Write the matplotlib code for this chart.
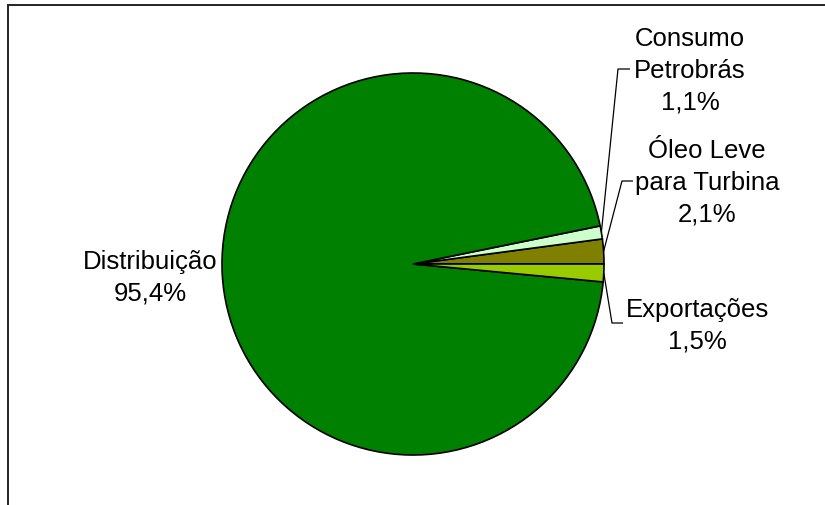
import numpy as np
import matplotlib
matplotlib.use('Agg')
from matplotlib import pyplot as plt
from matplotlib.patches import Rectangle

labels = ['Óleo Leve\npara Turbina', 'Consumo\nPetrobrás', 'Distribuição', 'Exportações']
values = [2.1, 1.1, 95.4, 1.5]
pct_text = ['2,1%', '1,1%', '95,4%', '1,5%']
colors = ['#808000', '#CCFFCC', '#008000', '#99CC00']

W, H = 825, 506
fig = plt.figure(figsize=(W / 100, H / 100), dpi=100)
ax = fig.add_axes([0, 0, 1, 1])

plt.rcParams['font.family'] = ['Liberation Sans', 'DejaVu Sans']

# chart frame (only top and left edges fall inside the image)
ax.add_patch(Rectangle((8, -20), 900, H - 6 + 20, fill=False,
                       edgecolor='#222222', linewidth=1.4))

cx, cy, r = 413, H - 265, 191
wedges, _ = ax.pie(values, colors=colors, startangle=0, counterclock=True,
                   center=(cx, cy), radius=r, frame=True,
                   wedgeprops=dict(edgecolor='black', linewidth=1.2))
ax.set_xlim(0, W)
ax.set_ylim(0, H)
ax.set_aspect('equal')
ax.axis('off')

fs = 18.5
# label anchor (text center) and elbow of the leader line, in pixels
label_pos = {
    0: ((707, 183), (622, 182), (633, 182)),
    1: ((690, 71), (618, 70), (630, 70)),
    2: ((150, 278), None, None),
    3: ((697, 326), (612, 324), (623, 324)),
}

for i, w in enumerate(wedges):
    (tx, ty), elbow, end = label_pos[i]
    ax.text(tx, H - ty, labels[i] + '\n' + pct_text[i], ha='center', va='center',
            fontsize=fs, linespacing=1.42, color='black')
    if elbow is not None:
        ang = np.deg2rad((w.theta1 + w.theta2) / 2)
        sx, sy = cx + r * np.cos(ang), cy + r * np.sin(ang)
        ax.plot([sx, elbow[0], end[0]], [sy, H - elbow[1], H - end[1]],
                color='black', linewidth=0.9, solid_capstyle='butt')

fig.savefig('out.png', dpi=100)
